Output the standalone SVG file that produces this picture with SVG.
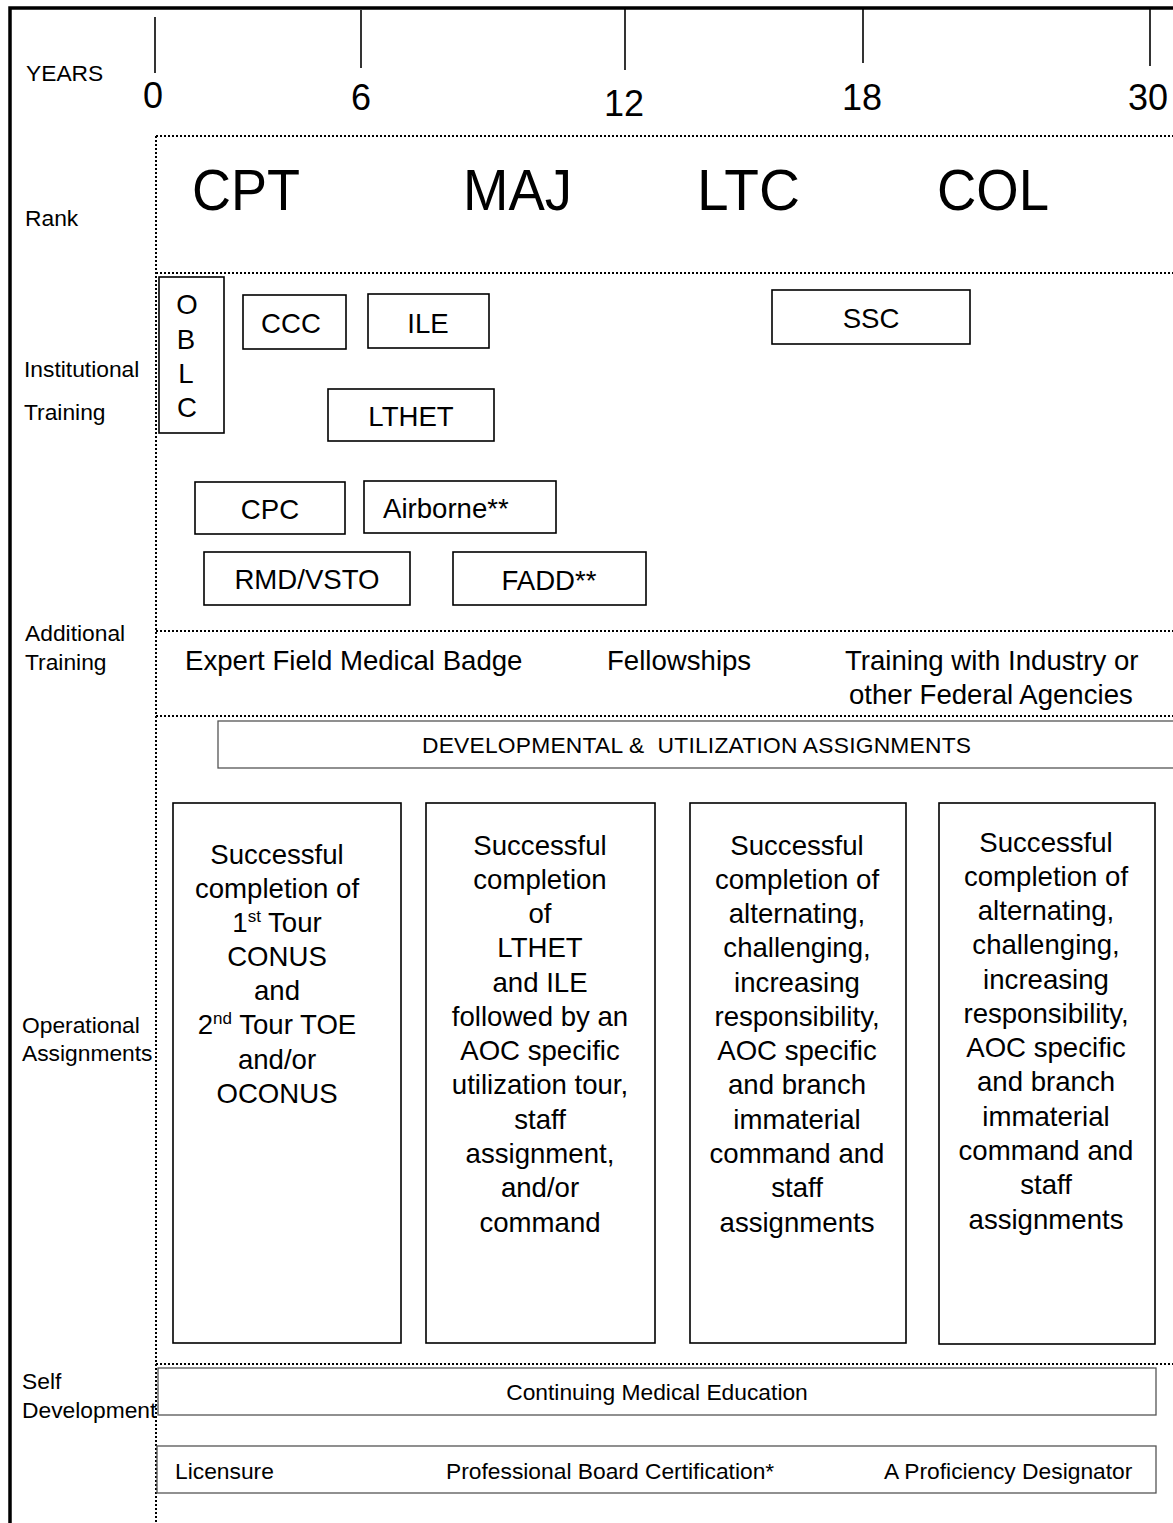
<svg xmlns="http://www.w3.org/2000/svg" width="1173" height="1523" viewBox="0 0 1173 1523">
<style>
text{font-family:"Liberation Sans",Arial,sans-serif;fill:#000}
.lbl{font-size:22.8px}
.num{font-size:36px}
.rank{font-size:57px}
.bx{font-size:27.6px}
.sm{font-size:22.8px}
.box{fill:none;stroke:#000;stroke-width:1.6}
.gbox{fill:none;stroke:#555;stroke-width:1.3}
.dot{fill:none;stroke:#000;stroke-width:2;stroke-dasharray:2 2}
.tick{stroke:#000;stroke-width:1.6}
.c{text-anchor:middle}
</style>
<rect width="1173" height="1523" fill="#fff"/>
<g id="frame">
<path d="M10,1523 V8 H1173" fill="none" stroke="#000" stroke-width="3.5"/>
</g>
<g id="timeline">
<line class="tick" x1="155" y1="17" x2="155" y2="73"/>
<line class="tick" x1="361" y1="10" x2="361" y2="68"/>
<line class="tick" x1="625" y1="8" x2="625" y2="70"/>
<line class="tick" x1="863" y1="8" x2="863" y2="63"/>
<line class="tick" x1="1150" y1="8" x2="1150" y2="66"/>
<text class="num c" x="153" y="108">0</text>
<text class="num c" x="361" y="110">6</text>
<text class="num c" x="624" y="116">12</text>
<text class="num c" x="862" y="110">18</text>
<text class="num c" x="1148" y="110">30</text>
</g>
<g id="grid">
<line class="dot" x1="156" y1="136" x2="156" y2="1523"/>
<line class="dot" x1="156" y1="136" x2="1173" y2="136"/>
<line class="dot" x1="156" y1="273" x2="1173" y2="273"/>
<line class="dot" x1="156" y1="631" x2="1173" y2="631"/>
<line class="dot" x1="156" y1="716" x2="1173" y2="716"/>
<line class="dot" x1="156" y1="1364" x2="1173" y2="1364"/>
</g>
<g id="row-labels">
<text class="lbl" x="26" y="81">YEARS</text>
<text class="lbl" x="25" y="226">Rank</text>
<text class="lbl" x="24" y="377">Institutional</text>
<text class="lbl" x="24" y="420">Training</text>
<text class="lbl" x="25" y="641">Additional</text>
<text class="lbl" x="25" y="670">Training</text>
<text class="lbl" x="22" y="1033">Operational</text>
<text class="lbl" x="22" y="1061">Assignments</text>
<text class="lbl" x="22" y="1389">Self</text>
<text class="lbl" x="22" y="1418">Development</text>
</g>
<g id="ranks">
<text class="rank" x="192" y="210" textLength="108" lengthAdjust="spacingAndGlyphs">CPT</text>
<text class="rank" x="463" y="210" textLength="109" lengthAdjust="spacingAndGlyphs">MAJ</text>
<text class="rank" x="697" y="210" textLength="103" lengthAdjust="spacingAndGlyphs">LTC</text>
<text class="rank" x="937" y="210" textLength="112" lengthAdjust="spacingAndGlyphs">COL</text>
</g>
<g id="oblc">
<rect class="box" x="159" y="277" width="65" height="156"/>
<text class="bx c" x="187" y="314">O</text>
<text class="bx c" x="186" y="349">B</text>
<text class="bx c" x="186" y="383">L</text>
<text class="bx c" x="187" y="417">C</text>
</g>
<g id="ccc"><rect class="box" x="243" y="295" width="103" height="54"/><text class="bx c" x="291" y="333">CCC</text></g>
<g id="ile"><rect class="box" x="368" y="294" width="121" height="54"/><text class="bx c" x="428" y="333">ILE</text></g>
<g id="ssc"><rect class="box" x="772" y="290" width="198" height="54"/><text class="bx c" x="871" y="328">SSC</text></g>
<g id="lthet"><rect class="box" x="328" y="389" width="166" height="52"/><text class="bx c" x="411" y="426">LTHET</text></g>
<g id="cpc"><rect class="box" x="195" y="482" width="150" height="52"/><text class="bx c" x="270" y="519">CPC</text></g>
<g id="airborne"><rect class="box" x="364" y="481" width="192" height="52"/><text class="bx" x="383" y="518">Airborne**</text></g>
<g id="rmd"><rect class="box" x="204" y="552" width="206" height="53"/><text class="bx c" x="307" y="589">RMD/VSTO</text></g>
<g id="fadd"><rect class="box" x="453" y="552" width="193" height="53"/><text class="bx c" x="549" y="590">FADD**</text></g>
<g id="additional">
<text class="bx" x="185" y="670">Expert Field Medical Badge</text>
<text class="bx" x="607" y="670">Fellowships</text>
<text class="bx" x="845" y="670">Training with Industry or</text>
<text class="bx" x="849" y="704">other Federal Agencies</text>
</g>
<g id="developmental">
<rect class="gbox" x="218" y="721" width="960" height="47"/>
<text class="sm" x="422" y="753" xml:space="preserve" textLength="549">DEVELOPMENTAL &amp;  UTILIZATION ASSIGNMENTS</text>
</g>
<g id="op1">
<rect class="box" x="173" y="803" width="228" height="540"/>
<text class="bx c" x="277" y="864">Successful</text>
<text class="bx c" x="277" y="898">completion of</text>
<text class="bx c" x="277" y="932">1<tspan font-size="17" dy="-10">st</tspan><tspan dy="10"> Tour</tspan></text>
<text class="bx c" x="277" y="966">CONUS</text>
<text class="bx c" x="277" y="1000">and</text>
<text class="bx c" x="277" y="1034">2<tspan font-size="17" dy="-10">nd</tspan><tspan dy="10"> Tour TOE</tspan></text>
<text class="bx c" x="277" y="1069">and/or</text>
<text class="bx c" x="277" y="1103">OCONUS</text>
</g>
<g id="op2">
<rect class="box" x="426" y="803" width="229" height="540"/>
<text class="bx c" x="540" y="855">Successful</text>
<text class="bx c" x="540" y="889">completion</text>
<text class="bx c" x="540" y="923">of</text>
<text class="bx c" x="540" y="957">LTHET</text>
<text class="bx c" x="540" y="992">and ILE</text>
<text class="bx c" x="540" y="1026">followed by an</text>
<text class="bx c" x="540" y="1060">AOC specific</text>
<text class="bx c" x="540" y="1094">utilization tour,</text>
<text class="bx c" x="540" y="1129">staff</text>
<text class="bx c" x="540" y="1163">assignment,</text>
<text class="bx c" x="540" y="1197">and/or</text>
<text class="bx c" x="540" y="1232">command</text>
</g>
<g id="op3">
<rect class="box" x="690" y="803" width="216" height="540"/>
<text class="bx c" x="797" y="855">Successful</text>
<text class="bx c" x="797" y="889">completion of</text>
<text class="bx c" x="797" y="923">alternating,</text>
<text class="bx c" x="797" y="957">challenging,</text>
<text class="bx c" x="797" y="992">increasing</text>
<text class="bx c" x="797" y="1026">responsibility,</text>
<text class="bx c" x="797" y="1060">AOC specific</text>
<text class="bx c" x="797" y="1094">and branch</text>
<text class="bx c" x="797" y="1129">immaterial</text>
<text class="bx c" x="797" y="1163">command and</text>
<text class="bx c" x="797" y="1197">staff</text>
<text class="bx c" x="797" y="1232">assignments</text>
</g>
<g id="op4">
<rect class="box" x="939" y="803" width="216" height="541"/>
<text class="bx c" x="1046" y="852">Successful</text>
<text class="bx c" x="1046" y="886">completion of</text>
<text class="bx c" x="1046" y="920">alternating,</text>
<text class="bx c" x="1046" y="954">challenging,</text>
<text class="bx c" x="1046" y="989">increasing</text>
<text class="bx c" x="1046" y="1023">responsibility,</text>
<text class="bx c" x="1046" y="1057">AOC specific</text>
<text class="bx c" x="1046" y="1091">and branch</text>
<text class="bx c" x="1046" y="1126">immaterial</text>
<text class="bx c" x="1046" y="1160">command and</text>
<text class="bx c" x="1046" y="1194">staff</text>
<text class="bx c" x="1046" y="1229">assignments</text>
</g>
<g id="cme">
<rect class="gbox" x="158" y="1368" width="998" height="47"/>
<text class="sm c" x="657" y="1400">Continuing Medical Education</text>
</g>
<g id="licensure">
<rect class="gbox" x="157" y="1446" width="999" height="47"/>
<text class="sm" x="175" y="1479">Licensure</text>
<text class="sm" x="446" y="1479">Professional Board Certification*</text>
<text class="sm" x="884" y="1479">A Proficiency Designator</text>
</g>
<g id="connectors"></g>
</svg>
